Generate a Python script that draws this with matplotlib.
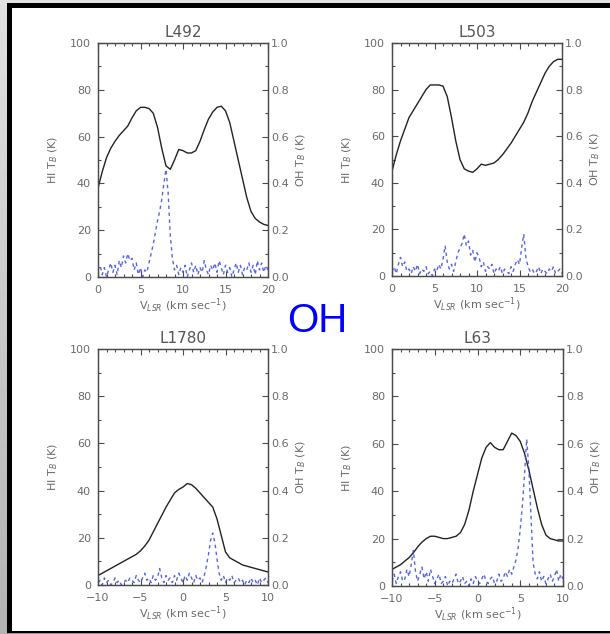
import numpy as np
import matplotlib
matplotlib.use('Agg')
import matplotlib.pyplot as plt
from matplotlib.ticker import MultipleLocator, FormatStrFormatter
from matplotlib.patches import Rectangle

# ---------------- data ----------------
titles = ["L492", "L503", "L1780", "L63"]
xranges = [(0, 20), (0, 20), (-10, 10), (-10, 10)]

# HI brightness temperature (K), sampled every 0.5 km/s
hi_L492 = [38, 45, 51, 55, 58, 60.5, 62.5, 64.5, 68, 71, 72.5, 72.5, 72, 70, 64, 55,
           47.5, 46, 50, 54.5, 54, 53, 53, 54, 58, 63, 67.5, 70.5, 72.5, 73, 71, 66,
           58, 50, 42, 34, 28, 25, 23.5, 22.5, 22]
hi_L503 = [45, 52, 58, 63, 68, 71, 74, 77, 80, 82, 82, 82, 81.5, 77, 68, 58,
           50, 46, 45, 44.5, 46, 48, 47.5, 48, 48.5, 50, 52, 54.5, 57, 60, 63, 66,
           70, 75, 79, 83, 87, 90, 92, 93, 93]
hi_L1780 = [4, 5, 6, 7, 8, 9, 10, 11, 12, 13, 14.5, 16.5, 19, 22.5, 26, 29.5,
            33, 36, 39, 40.5, 41.5, 43, 42.5, 41, 39, 37, 35, 33, 28, 21, 14, 11.5,
            10.5, 9.5, 8.5, 8, 7.5, 7, 6.5, 6, 5.5]
hi_L63 = [7, 8, 9, 10.5, 12, 14, 16.5, 18.5, 20, 21, 21, 20.5, 20, 20, 20.5, 21,
          22.5, 26, 32, 40, 47, 54, 58.5, 60.5, 58.5, 57.5, 57.5, 61, 64.5, 63.5, 61, 56,
          49, 41, 33, 26, 21.5, 20, 19.5, 19, 19]

# OH brightness temperature (K), sampled every 0.25 km/s
oh_L492 = [0.03, 0.05, 0.01, 0.04, 0.00, 0.03, 0.06, 0.02, 0.05, 0.01, 0.07, 0.04,
           0.09, 0.06, 0.10, 0.07, 0.08, 0.03, 0.06, 0.01, 0.04, 0.00, 0.03, 0.02,
           0.06, 0.10, 0.14, 0.19, 0.24, 0.28, 0.33, 0.40, 0.46, 0.36, 0.18, 0.08,
           0.03, 0.05, 0.01, 0.04, 0.02, 0.05, 0.00, 0.03, 0.06, 0.02, 0.05, 0.01,
           0.04, 0.02, 0.07, 0.03, 0.01, 0.05, 0.03, 0.06, 0.02, 0.07, 0.04, 0.01,
           0.05, 0.02, 0.04, 0.00, 0.03, 0.06, 0.02, 0.05, 0.01, 0.04, 0.03, 0.06,
           0.02, 0.05, 0.01, 0.07, 0.03, 0.06, 0.02, 0.05, 0.03]
oh_L503 = [0.02, 0.04, 0.01, 0.05, 0.08, 0.04, 0.06, 0.02, 0.03, 0.01, 0.04, 0.02,
           0.05, 0.01, 0.03, 0.02, 0.04, 0.01, 0.02, 0.00, 0.03, 0.02, 0.05, 0.03,
           0.07, 0.13, 0.06, 0.03, 0.05, 0.02, 0.06, 0.10, 0.12, 0.14, 0.18, 0.13,
           0.15, 0.09, 0.11, 0.06, 0.10, 0.08, 0.04, 0.06, 0.02, 0.04, 0.03, 0.05,
           0.01, 0.03, 0.02, 0.04, 0.01, 0.03, 0.02, 0.01, 0.04, 0.02, 0.05, 0.07,
           0.05, 0.12, 0.18, 0.08, 0.04, 0.02, 0.03, 0.01, 0.02, 0.04, 0.01, 0.03,
           0.02, 0.01, 0.03, 0.02, 0.04, 0.01, 0.02, 0.03, 0.01]
oh_L1780 = [0.01, 0.02, 0.00, 0.03, 0.01, 0.02, 0.00, 0.01, 0.03, 0.01, 0.02, 0.00,
            0.01, 0.02, 0.01, 0.03, 0.02, 0.01, 0.04, 0.02, 0.01, 0.03, 0.05, 0.02,
            0.03, 0.01, 0.04, 0.02, 0.03, 0.07, 0.03, 0.01, 0.04, 0.02, 0.03, 0.01,
            0.04, 0.02, 0.05, 0.03, 0.01, 0.04, 0.02, 0.05, 0.03, 0.01, 0.04, 0.02,
            0.03, 0.01, 0.04, 0.08, 0.13, 0.19, 0.22, 0.18, 0.11, 0.05, 0.02, 0.04,
            0.01, 0.03, 0.02, 0.04, 0.01, 0.02, 0.03, 0.01, 0.02, 0.00, 0.02, 0.01,
            0.03, 0.01, 0.02, 0.00, 0.03, 0.01, 0.02, 0.03, 0.01]
oh_L63 = [0.02, 0.05, 0.01, 0.04, 0.06, 0.02, 0.03, 0.07, 0.04, 0.09, 0.15, 0.06,
          0.02, 0.05, 0.08, 0.03, 0.06, 0.02, 0.07, 0.04, 0.01, 0.03, 0.05, 0.01,
          0.02, 0.04, 0.00, 0.02, 0.01, 0.03, 0.05, 0.01, 0.02, 0.04, 0.01, 0.02,
          0.00, 0.03, 0.01, 0.04, 0.02, 0.01, 0.03, 0.05, 0.02, 0.01, 0.03, 0.04,
          0.01, 0.02, 0.05, 0.02, 0.03, 0.06, 0.04, 0.07, 0.05, 0.08, 0.11, 0.16,
          0.24, 0.34, 0.47, 0.62, 0.50, 0.30, 0.10, 0.05, 0.03, 0.06, 0.02, 0.04,
          0.01, 0.03, 0.05, 0.02, 0.04, 0.07, 0.02, 0.05, 0.03]

hi_data = [hi_L492, hi_L503, hi_L1780, hi_L63]
oh_data = [oh_L492, oh_L503, oh_L1780, oh_L63]

# ---------------- layout ----------------
W, H = 610, 634
fig = plt.figure(figsize=(W / 100, H / 100), dpi=100)
fig.patch.set_facecolor('white')


def fr(x0, y0, x1, y1):
    return [x0 / W, 1 - y1 / H, (x1 - x0) / W, (y1 - y0) / H]


# frame decoration
gax = fig.add_axes(fr(0, 0, 7, H))
grad = np.linspace(0.88, 0.70, 100).reshape(-1, 1)
gax.imshow(grad, aspect='auto', cmap='gray', vmin=0, vmax=1, extent=[0, 1, 0, 1])
gax.set_axis_off()
for rect, col in [((0, 0, W, 3), '#e2e2e2'), ((7, 3, W, 8), 'black'),
                  ((7, 3, 12, H), 'black'), ((7, 631, W, 633), 'black'),
                  ((7, 633, W, H), '#9a9a9a')]:
    x0, y0, x1, y1 = rect
    r = fr(x0, y0, x1, y1)
    fig.add_artist(Rectangle((r[0], r[1]), r[2], r[3], transform=fig.transFigure,
                             facecolor=col, edgecolor='none', zorder=5))

boxes = [(98, 43, 268, 277), (392, 43, 562, 276), (98, 349, 268, 585), (392, 349, 563, 586)]

tcol = '#6a6a6a'
scol = '#4a4a4a'

for i in range(4):
    ax = fig.add_axes(fr(*boxes[i]))
    x0, x1 = xranges[i]
    vh = np.linspace(x0, x1, len(hi_data[i]))
    vo = np.linspace(x0, x1, len(oh_data[i]))
    ax.plot(vh, hi_data[i], color='#222222', lw=1.0, zorder=3)
    ax.set_xlim(x0, x1)
    ax.set_ylim(0, 100)
    ax2 = ax.twinx()
    ax2.plot(vo, oh_data[i], color='#3a4ae0', lw=1.0, ls=(0, (2.5, 2.5)),
             alpha=0.85, zorder=2)
    ax2.set_ylim(0, 1)

    ax.xaxis.set_major_locator(MultipleLocator(5))
    ax.xaxis.set_minor_locator(MultipleLocator(1))
    ax.yaxis.set_major_locator(MultipleLocator(20))
    ax.yaxis.set_minor_locator(MultipleLocator(10))
    ax2.yaxis.set_major_locator(MultipleLocator(0.2))
    ax2.yaxis.set_minor_locator(MultipleLocator(0.1))
    ax2.yaxis.set_major_formatter(FormatStrFormatter('%.1f'))

    ax.tick_params(axis='x', which='both', direction='in', top=True, bottom=True,
                   colors=scol, labelcolor=tcol, labelsize=8, pad=6)
    ax.tick_params(axis='y', which='both', direction='in', left=True, right=False,
                   colors=scol, labelcolor=tcol, labelsize=8, pad=5)
    ax2.tick_params(axis='y', which='both', direction='in', colors=scol,
                    labelcolor=tcol, labelsize=8, pad=2)
    for a in (ax, ax2):
        a.tick_params(which='major', length=4, width=0.8)
        a.tick_params(which='minor', length=2.5, width=0.8)
        for s in a.spines.values():
            s.set_color(scol)
            s.set_linewidth(0.9)

    ax.set_title(titles[i], fontsize=11, color='#555555', pad=4)
    ax.set_xlabel('V$_{LSR}$ (km sec$^{-1}$)', fontsize=8, color=tcol, labelpad=1)
    ax.set_ylabel('HI T$_B$ (K)', fontsize=8, color=tcol, labelpad=7)
    ax2.set_ylabel('OH T$_B$ (K)', fontsize=8, color=tcol, labelpad=4)

fig.text(317.5 / W, 1 - 331.7 / H, 'OH', fontsize=29, color='#0000ff',
         family='Liberation Sans', ha='center', va='baseline')

fig.savefig('out.png', dpi=100, facecolor='white')
